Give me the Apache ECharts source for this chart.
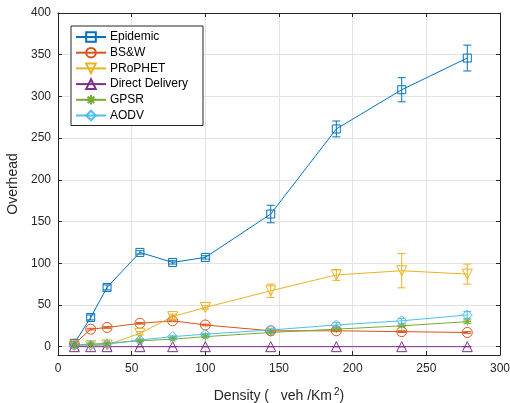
<!DOCTYPE html>
<html><head><meta charset="utf-8">
<script src="https://cdn.jsdelivr.net/npm/echarts@6/dist/echarts.min.js"></script>
<style>html,body{margin:0;padding:0;background:#fff}#c{width:510px;height:403px}</style>
</head><body><div id="c"></div>
<script>
const density = [11.1, 22.2, 33.3, 55.6, 77.8, 100, 144.4, 188.9, 233.3, 277.8];
const seriesNames = ['Epidemic', 'BS&W', 'PRoPHET', 'Direct Delivery', 'GPSR', 'AODV'];
const epidemic = [4, 35, 71, 113, 101, 107, 159, 261, 308, 346];
const epidemicErr = [2, 3, 3, 2, 2, 2, 10.5, 9.5, 14.5, 15.5];
const bsw = [3, 21, 23, 28, 31, 26, 19, 19, 18, 17];
const bswErr = [1, 1, 1, 1, 1, 1, 1, 1, 1, 1];
const prophet = [1, 1, 2, 16, 36, 47, 67, 86, 91, 87];
const prophetErr = [2, 1, 1, 2, 3, 2, 8, 6.5, 20.5, 12];
const direct = [0, 0, 0, 0, 0, 0, 0, 0, 0, 0];
const directErr = [0, 0, 0, 0, 0, 0, 0, 0, 0, 0];
const gpsr = [2, 3, 4, 7, 9, 12, 17, 21, 25, 30];
const gpsrErr = [1, 1, 1, 1, 1, 1, 1, 1, 1, 2];
const aodv = [2, 2, 3, 8, 12, 15, 20, 26, 31, 38];
const aodvErr = [1, 1, 1, 1, 1, 1, 2, 3, 3, 4];
const xTicks = [0, 50, 100, 150, 200, 250, 300];
const yTicks = [0, 50, 100, 150, 200, 250, 300, 350, 400];

const colors = ['#0072BD', '#D95319', '#EDB120', '#7E2F8E', '#77AC30', '#4DBEEE'];
const allVals = [epidemic, bsw, prophet, direct, gpsr, aodv];
const allErr = [epidemicErr, bswErr, prophetErr, directErr, gpsrErr, aodvErr];
const symbols = ['rect', 'circle', 'triangle', 'triangle', 'path://M0,-5L0,5M-5,0L5,0M-3.5,-3.5L3.5,3.5M-3.5,3.5L3.5,-3.5', 'diamond'];
const rot = [0, 0, 180, 0, 0, 0];
const sizes = [8, 10, 10, 10, 8, 10];

const series = [];
seriesNames.forEach((n, i) => {
  series.push({
    name: n + '_err', type: 'custom', z: 3,
    data: density.map((d, k) => [d, allVals[i][k] - allErr[i][k], allVals[i][k] + allErr[i][k]]),
    renderItem: function (params, api) {
      const lo = api.coord([api.value(0), api.value(1)]);
      const hi = api.coord([api.value(0), api.value(2)]);
      const w = 4;
      return {
        type: 'group', children: [
          {type: 'line', shape: {x1: lo[0], y1: lo[1], x2: hi[0], y2: hi[1]}, style: {stroke: colors[i], lineWidth: 1}},
          {type: 'line', shape: {x1: lo[0] - w, y1: lo[1], x2: lo[0] + w, y2: lo[1]}, style: {stroke: colors[i], lineWidth: 1}},
          {type: 'line', shape: {x1: hi[0] - w, y1: hi[1], x2: hi[0] + w, y2: hi[1]}, style: {stroke: colors[i], lineWidth: 1}}
        ]
      };
    },
    silent: true
  });
  series.push({
    name: n, type: 'line', z: 4,
    data: density.map((d, k) => [d, allVals[i][k]]),
    symbol: symbols[i], symbolSize: sizes[i], symbolRotate: rot[i], showAllSymbol: true,
    lineStyle: {color: colors[i], width: 1},
    itemStyle: {color: 'rgba(255,255,255,0)', borderColor: colors[i], borderWidth: 1},
    emphasis: {disabled: true},
    animation: false
  });
});

const axisLabelStyle = {color: '#262626', fontSize: 12, fontFamily: 'Liberation Sans, Arial, sans-serif'};
const option = {
  animation: false,
  color: colors,
  grid: {left: 58, right: 10, top: 13, bottom: 48, containLabel: false, outerBoundsMode: 'none'},
  legend: {
    data: seriesNames,
    orient: 'vertical', left: 71, top: 26,
    itemWidth: 30, itemHeight: 12, itemGap: 3.7,
    padding: [5, 15, 4, 4],
    borderColor: '#262626', borderWidth: 1, backgroundColor: '#fff',
    textStyle: {color: '#000', fontSize: 12, fontFamily: 'Liberation Sans, Arial, sans-serif', padding: [0, 0, 0, -1]}
  },
  xAxis: [{
    type: 'value', min: 0, max: 300, interval: 50,
    name: 'Density (   veh /Km{sup|2})', nameLocation: 'middle', nameGap: 32,
    nameTextStyle: {color: '#262626', fontSize: 14, fontFamily: 'Liberation Sans, Arial, sans-serif',
      rich: {sup: {fontSize: 10, verticalAlign: 'bottom', padding: [0, 0, 9, 2], color: '#262626'}}},
    axisLine: {show: true, onZero: false, lineStyle: {color: '#262626'}},
    axisTick: {show: true, inside: true, length: 4, lineStyle: {color: '#262626'}},
    axisLabel: Object.assign({margin: 8}, axisLabelStyle),
    splitLine: {show: true, lineStyle: {color: '#e3e3e3'}}
  }, {
    type: 'value', position: 'top', min: 0, max: 300, interval: 50,
    axisLine: {show: true, onZero: false, lineStyle: {color: '#262626'}},
    axisTick: {show: true, inside: true, length: 4, lineStyle: {color: '#262626'}},
    axisLabel: {show: false}, splitLine: {show: false}
  }],
  yAxis: [{
    type: 'value', min: -10, max: 400,
    name: 'Overhead', nameLocation: 'middle', nameGap: 38, nameRotate: 90,
    nameTextStyle: {color: '#262626', fontSize: 14, fontFamily: 'Liberation Sans, Arial, sans-serif'},
    axisLine: {show: true, onZero: false, lineStyle: {color: '#262626'}},
    axisTick: {show: true, inside: true, length: 4, customValues: yTicks, lineStyle: {color: '#262626'}},
    axisLabel: Object.assign({margin: 7, customValues: yTicks}, axisLabelStyle),
    splitLine: {show: true, lineStyle: {color: '#e3e3e3'}}
  }, {
    type: 'value', position: 'right', min: -10, max: 400,
    axisLine: {show: true, onZero: false, lineStyle: {color: '#262626'}},
    axisTick: {show: true, inside: true, length: 4, customValues: yTicks, lineStyle: {color: '#262626'}},
    axisLabel: {show: false, customValues: yTicks}, splitLine: {show: false}
  }],
  series: series
};
const chart = echarts.init(document.getElementById('c'), null, {renderer: 'canvas'});
chart.setOption(option);
</script></body></html>
